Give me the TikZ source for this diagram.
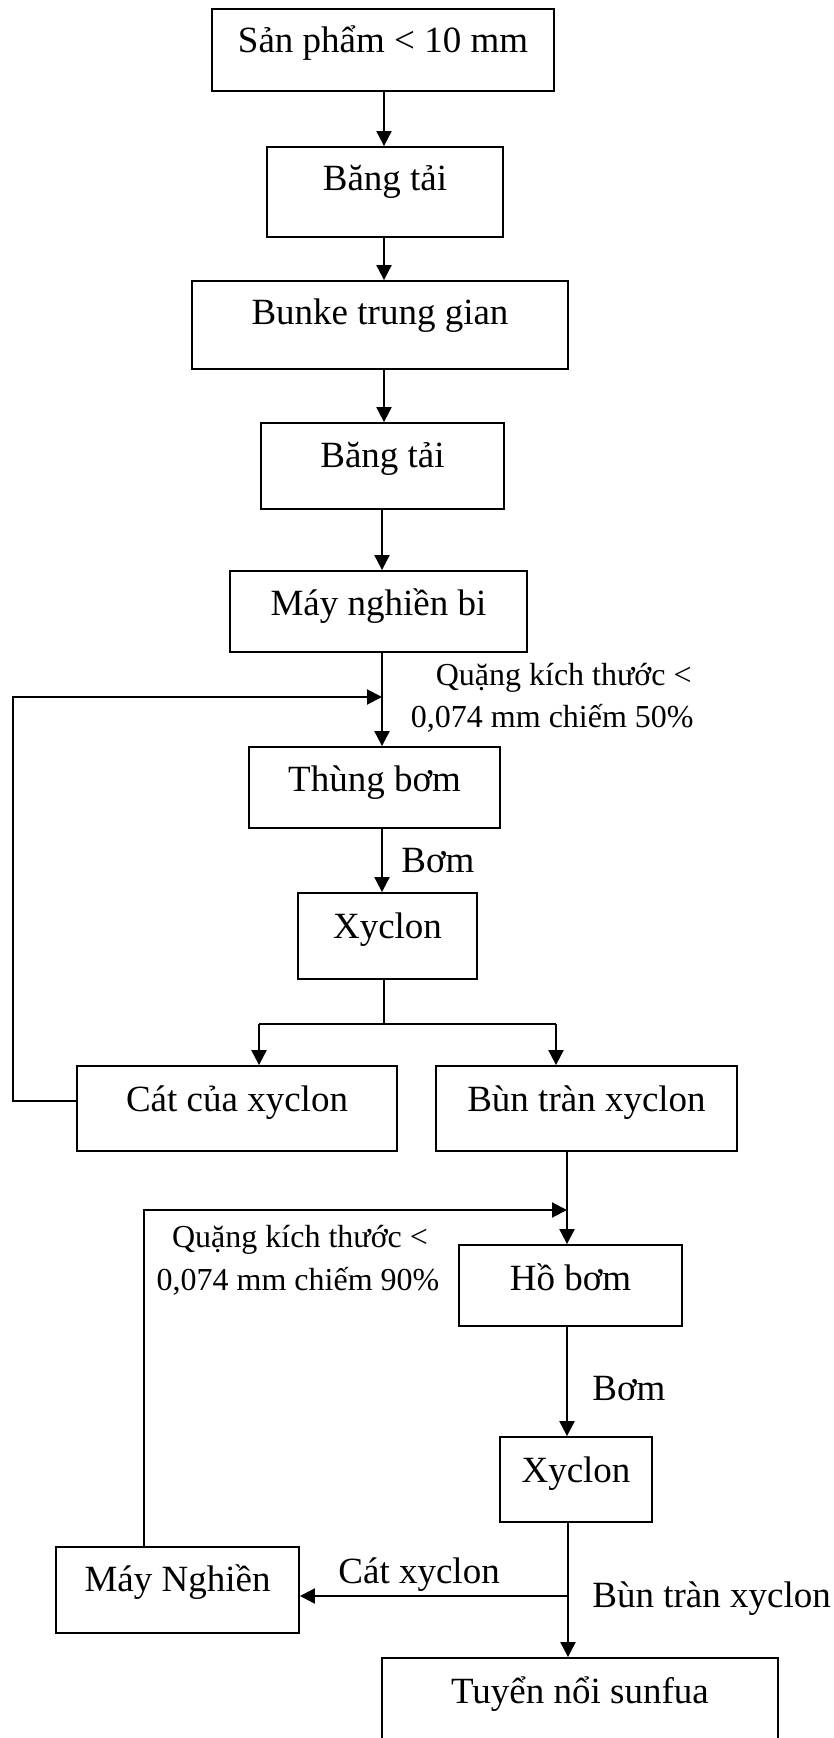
\documentclass[tikz,border=0pt]{standalone}
\usepackage{fontspec}
\setmainfont{Liberation Serif}
\usetikzlibrary{arrows.meta,calc}
\begin{document}
\begin{tikzpicture}[x=0.5pt,y=-0.5pt,
 box/.style={draw,line width=0.9pt,inner sep=0pt,anchor=base,font=\fontsize{18.5}{22}\selectfont},
 lbl/.style={inner sep=0pt,font=\fontsize{18.5}{22}\selectfont},
 small/.style={inner sep=0pt,font=\fontsize{16}{20}\selectfont},
 arr/.style={line width=1pt,line join=miter,-{Triangle[length=7.5pt,width=7.5pt]}},
 ln/.style={line width=1pt}]
\useasboundingbox (0,0) rectangle (834,1738);
% boxes
\node[box,minimum width=171pt,text height=22pt,text depth=19pt] (b1) at (383,53) {Sản phẩm < 10 mm};
\node[box,minimum width=118pt,text height=22pt,text depth=23pt] (b2) at (385,191) {Băng tải};
\node[box,minimum width=188pt,text height=22pt,text depth=22pt] (b3) at (380,325) {Bunke trung gian};
\node[box,minimum width=121.5pt,text height=22pt,text depth=21pt] (b4) at (382.5,467) {Băng tải};
\node[box,minimum width=148.5pt,text height=22pt,text depth=18.5pt] (b5) at (378.5,615) {Máy nghiền bi};
\node[box,minimum width=125.5pt,text height=22pt,text depth=18.5pt] (b6) at (374.5,791) {Thùng bơm};
\node[box,minimum width=89.5pt,text height=22.5pt,text depth=20.5pt] (xy1) at (387.5,938) {Xyclon};
\node[box,minimum width=160pt,text height=22.5pt,text depth=20pt] (b7) at (237,1111) {Cát của xyclon};
\node[box,minimum width=150.5pt,text height=22.5pt,text depth=20pt] (b8) at (586.5,1111) {Bùn tràn xyclon\hspace{9pt}};
\node[box,minimum width=111.5pt,text height=22.5pt,text depth=18pt] (ho) at (570.5,1290) {Hồ bơm};
\node[box,minimum width=76pt,text height=22.5pt,text depth=20pt] (xy2) at (576,1482) {Xyclon};
\node[box,minimum width=121.5pt,text height=22pt,text depth=21pt] (mn) at (177.5,1591) {Máy Nghiền\hspace{7pt}};
\node[box,minimum width=198pt,text height=22.5pt,text depth=30pt] (tu) at (580,1703) {Tuyển nổi sunfua};
% labels
\node[small,anchor=base east] (q1a) at (692,685) {Quặng kích thước <};
\node[small,anchor=base east] (q1b) at (694,727) {0,074 mm chiếm 50\%};
\node[lbl,anchor=base west] (bom1) at (401,872) {Bơm};
\node[small,anchor=base] (q2a) at (300,1247) {Quặng kích thước <};
\node[small,anchor=base] (q2b) at (298,1290) {0,074 mm chiếm 90\%};
\node[lbl,anchor=base west] (bom2) at (592,1400) {Bơm};
\node[lbl,anchor=base west] (cx) at (338,1583) {Cát xyclon};
\node[lbl,anchor=base west] (bt) at (592,1607) {Bùn tràn xyclon};
% coordinates
\coordinate (spA) at (384,0);
\coordinate (spB) at (382,0);
\coordinate (sp) at (384,1024);
\coordinate (lt) at (259,1024);
\coordinate (rt) at (556,1024);
\coordinate (j1) at (382,697);
\coordinate (fb1) at (13,0);
\coordinate (s2) at (567,0);
\coordinate (j2) at (567,1210);
\coordinate (fb2) at (144,0);
\coordinate (s3) at (568,0);
\coordinate (j3) at (568,1596);
% connectors
\draw[arr] (b1.south -| spA) -- (b2.north -| spA);
\draw[arr] (b2.south -| spA) -- (b3.north -| spA);
\draw[arr] (b3.south -| spA) -- (b4.north -| spA);
\draw[arr] (b4.south -| spB) -- (b5.north -| spB);
\draw[arr] (b5.south -| spB) -- (b6.north -| spB);
\draw[arr] (b6.south -| spB) -- (xy1.north -| spB);
\draw[ln] (xy1.south -| sp) -- (sp);
\draw[ln] (lt) -- (rt);
\draw[arr] (lt) -- (b7.north -| lt);
\draw[arr] (rt) -- (b8.north -| rt);
\draw[arr] ([yshift=3.75pt]b7.west) -| (fb1 |- j1) -- (j1);
\draw[arr] (b8.south -| s2) -- (ho.north -| s2);
\draw[arr] (mn.north -| fb2) |- (j2);
\draw[arr] (ho.south -| s2) -- (xy2.north -| s2);
\draw[arr] (xy2.south -| s3) -- (tu.north -| s3);
\draw[arr] (j3) -- (mn.east |- j3);
\end{tikzpicture}
\end{document}
